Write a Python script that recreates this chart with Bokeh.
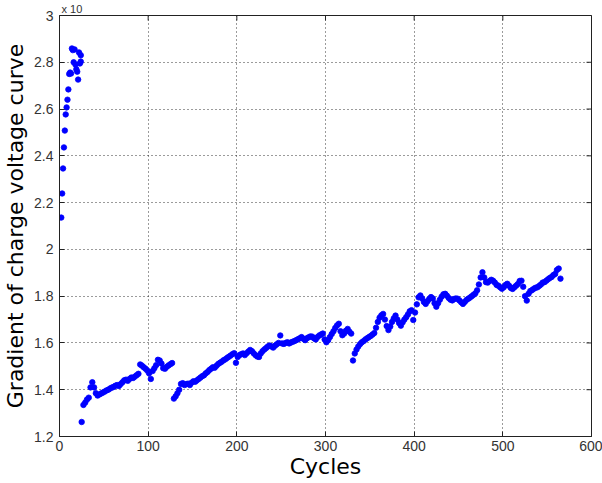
import math
from bokeh.plotting import figure
from bokeh.models import FixedTicker
from bokeh.embed import file_html
from bokeh.resources import INLINE

# ---- data ----
cycles_a = [2, 3, 4, 5, 6, 7, 8, 9, 10, 11, 12, 13, 14, 15, 16, 17, 18, 19,
            20, 21, 22, 23, 24, 24]
grad_a = [2.136, 2.239, 2.346, 2.436, 2.508, 2.577, 2.607, 2.640, 2.684,
          2.750, 2.756, 2.752, 2.859, 2.852, 2.800, 2.855, 2.790, 2.770,
          2.760, 2.726, 2.842, 2.795, 2.830, 2.803]

cycles_b = list(range(25, 128, 2))
grad_b = [1.262, 1.335, 1.345, 1.358, 1.366, 1.410, 1.432, 1.410, 1.385, 1.375,
          1.380, 1.384, 1.388, 1.392, 1.397, 1.400, 1.405, 1.409, 1.412, 1.417,
          1.420, 1.416, 1.424, 1.432, 1.440, 1.443, 1.438, 1.446, 1.452, 1.450,
          1.456, 1.462, 1.468, 1.508, 1.503, 1.496, 1.490, 1.482, 1.470, 1.446,
          1.480, 1.492, 1.505, 1.528, 1.525, 1.512, 1.492, 1.490, 1.498, 1.504,
          1.509, 1.514]

cycles_c = list(range(129, 330, 2))
grad_c = [1.362, 1.372, 1.385, 1.400, 1.425, 1.428, 1.420, 1.424, 1.426, 1.420,
          1.430, 1.436, 1.434, 1.440, 1.446, 1.452, 1.458, 1.462, 1.470, 1.476,
          1.484, 1.490, 1.496, 1.494, 1.502, 1.510, 1.515, 1.520, 1.526, 1.530,
          1.536, 1.541, 1.546, 1.552, 1.556, 1.515, 1.540, 1.548, 1.552, 1.555,
          1.548, 1.556, 1.563, 1.570, 1.565, 1.556, 1.548, 1.542, 1.540, 1.555,
          1.565, 1.572, 1.578, 1.585, 1.589, 1.585, 1.580, 1.588, 1.594, 1.600,
          1.632, 1.598, 1.596, 1.600, 1.603, 1.598, 1.602, 1.605, 1.608, 1.612,
          1.616, 1.620, 1.625, 1.618, 1.612, 1.620, 1.624, 1.628, 1.627, 1.620,
          1.615, 1.625, 1.632, 1.636, 1.640, 1.615, 1.603, 1.612, 1.625, 1.638,
          1.650, 1.664, 1.675, 1.682, 1.650, 1.633, 1.640, 1.652, 1.660, 1.648,
          1.640]

cycles_d = list(range(331, 566, 2))
grad_d = [1.525, 1.555, 1.572, 1.585, 1.595, 1.603, 1.608, 1.615, 1.620, 1.625,
          1.630, 1.636, 1.642, 1.665, 1.690, 1.708, 1.718, 1.724, 1.700, 1.672,
          1.655, 1.670, 1.690, 1.705, 1.717, 1.700, 1.685, 1.674, 1.688, 1.700,
          1.710, 1.722, 1.735, 1.740, 1.698, 1.730, 1.765, 1.795, 1.803, 1.790,
          1.775, 1.767, 1.778, 1.788, 1.796, 1.790, 1.770, 1.755, 1.770, 1.785,
          1.798, 1.808, 1.810, 1.802, 1.792, 1.785, 1.782, 1.788, 1.790, 1.789,
          1.782, 1.774, 1.767, 1.775, 1.784, 1.789, 1.794, 1.800, 1.806, 1.812,
          1.825, 1.850, 1.880, 1.902, 1.880, 1.860, 1.858, 1.865, 1.870, 1.866,
          1.858, 1.848, 1.845, 1.838, 1.832, 1.838, 1.848, 1.853, 1.845, 1.835,
          1.831, 1.838, 1.845, 1.852, 1.865, 1.866, 1.840, 1.800, 1.781, 1.810,
          1.822, 1.826, 1.832, 1.836, 1.838, 1.844, 1.850, 1.858, 1.860, 1.866,
          1.872, 1.878, 1.882, 1.890, 1.895, 1.912, 1.918, 1.875]

x_ticks = [0, 100, 200, 300, 400, 500, 600]
y_ticks = [1.2, 1.4, 1.6, 1.8, 2.0, 2.2, 2.4, 2.6, 2.8, 3.0]
y_tick_labels = ["1.2", "1.4", "1.6", "1.8", "2", "2.2", "2.4", "2.6", "2.8", "3"]
x_lim = (0, 600)
y_lim = (1.2, 3.0)

cycles = cycles_a + cycles_b + cycles_c + cycles_d
grad = grad_a + grad_b + grad_c + grad_d

# ---- figure ----
p = figure(width=602, height=483, x_range=x_lim, y_range=y_lim,
           output_backend="svg", toolbar_location=None,
           min_border_left=55, min_border_right=11,
           min_border_top=15, min_border_bottom=47)
p.background_fill_color = "white"
p.border_fill_color = "white"
p.outline_line_color = "#222222"
p.outline_line_width = 1

# title used for the cut-off exponent note at the top-left
p.title.text = "x 10"
p.title.align = "left"
p.title.offset = 2
p.title.standoff = 1
p.title.text_font = "Liberation Sans"
p.title.text_font_size = "11px"
p.title.text_font_style = "normal"
p.title.text_color = "#333333"

p.scatter(cycles, grad, size=5.5, marker="circle", fill_color="#0000FF",
          line_color="#0000FF", line_width=0.8)

TICK_FONT = "Liberation Sans"
LABEL_FONT = "DejaVu Sans"

for ax in p.xaxis:
    ax.ticker = FixedTicker(ticks=x_ticks)
for ax in p.yaxis:
    ax.ticker = FixedTicker(ticks=y_ticks)
    ax.major_label_overrides = dict(zip(y_ticks, y_tick_labels))

for ax in (p.xaxis[0], p.yaxis[0]):
    ax.major_tick_in = 5
    ax.major_tick_out = 0
    ax.minor_tick_line_color = None
    ax.axis_line_color = "#222222"
    ax.major_tick_line_color = "#222222"
    ax.major_label_text_font = TICK_FONT
    ax.major_label_text_font_size = "14px"
    ax.major_label_text_color = "#333333"
    ax.axis_label_text_font = LABEL_FONT
    ax.axis_label_text_font_size = "22px"
    ax.axis_label_text_font_style = "normal"
    ax.axis_label_text_color = "#000000"

p.xaxis.axis_label = "Cycles"
p.yaxis.axis_label = "Gradient of charge voltage curve"
p.xaxis.major_label_standoff = 4
p.xaxis.axis_label_standoff = 0
p.yaxis.major_label_standoff = 6
p.yaxis.axis_label_standoff = 3

# inward tick marks on the right and top edges (box on); half of each
# dash falls outside the frame and is clipped away
p.scatter([x_lim[1]] * len(y_ticks), y_ticks, marker="dash", size=10,
          line_color="#222222", line_width=1)
p.scatter(x_ticks, [y_lim[1]] * len(x_ticks), marker="dash", size=10,
          angle=math.pi / 2, line_color="#222222", line_width=1)

# dotted grid
p.xgrid.ticker = FixedTicker(ticks=x_ticks)
p.ygrid.ticker = FixedTicker(ticks=y_ticks)
for g in (p.xgrid[0], p.ygrid[0]):
    g.grid_line_color = "#222222"
    g.grid_line_dash = "1 3"
    g.grid_line_width = 1
    g.grid_line_alpha = 0.9

open("out.html", "w").write(file_html(p, INLINE))
